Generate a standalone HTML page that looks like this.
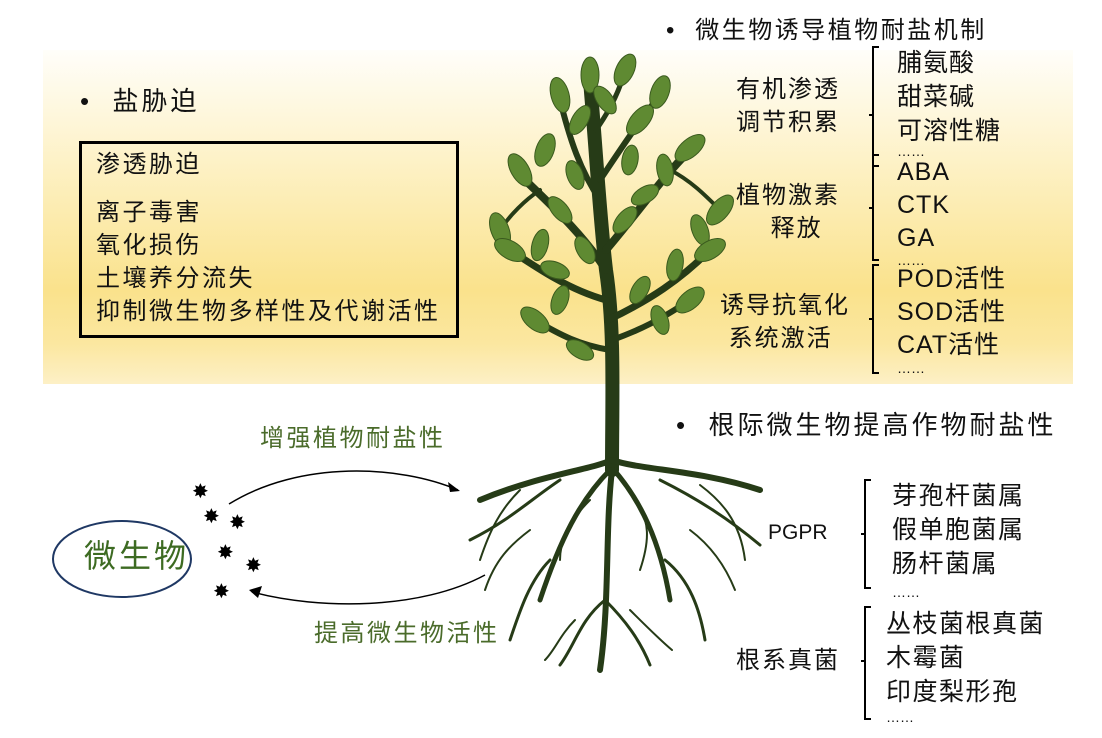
<!DOCTYPE html>
<html><head><meta charset="utf-8"><style>
body{margin:0;width:1102px;height:738px;background:#fff;position:relative;overflow:hidden;font-family:"Liberation Sans","Noto Sans CJK SC",sans-serif;color:#111}
.band{position:absolute;left:43px;top:50px;width:1030px;height:334px;background:linear-gradient(#fffefa 0%,#fdf1c4 35%,#fae28c 72%,#fbe7a0 88%,#fdf0c6 100%)}
.t{position:absolute;white-space:nowrap;line-height:1}
</style></head><body>
<div class="band"></div>
<svg width="1102" height="738" style="position:absolute;left:0;top:0">
<g stroke="#263b17" fill="none" stroke-linecap="round">
<path d="M612 470 C612 400 615 330 606 270 C600 220 596 150 590 80" stroke-width="14"/>
<path d="M606 270 C580 230 545 200 520 175" stroke-width="8"/>
<path d="M606 250 C640 210 660 180 690 150" stroke-width="8"/>
<path d="M606 300 C570 290 540 270 510 250" stroke-width="7"/>
<path d="M608 320 C650 300 680 280 710 250" stroke-width="7"/>
<path d="M600 200 C580 170 570 140 560 100" stroke-width="6"/>
<path d="M600 180 C620 150 640 120 660 95" stroke-width="6"/>
<path d="M596 130 C610 110 620 90 625 70" stroke-width="5"/>
<path d="M610 350 C580 345 560 335 535 320" stroke-width="6"/>
<path d="M612 340 C640 330 660 320 690 300" stroke-width="6"/>
<path d="M540 190 C525 200 510 215 500 230" stroke-width="4"/>
<path d="M670 170 C690 180 705 195 720 210" stroke-width="4"/>
</g>
<g fill="#5f8a32" stroke="#3a5a1e" stroke-width="1">
<ellipse cx="520" cy="170" rx="9" ry="18" transform="rotate(-30 520 170)"/>
<ellipse cx="545" cy="150" rx="9" ry="17" transform="rotate(20 545 150)"/>
<ellipse cx="560" cy="95" rx="9" ry="18" transform="rotate(-15 560 95)"/>
<ellipse cx="580" cy="120" rx="8" ry="16" transform="rotate(30 580 120)"/>
<ellipse cx="590" cy="75" rx="9" ry="18"/>
<ellipse cx="625" cy="70" rx="9" ry="17" transform="rotate(25 625 70)"/>
<ellipse cx="605" cy="100" rx="8" ry="16" transform="rotate(-35 605 100)"/>
<ellipse cx="640" cy="120" rx="9" ry="18" transform="rotate(40 640 120)"/>
<ellipse cx="660" cy="92" rx="9" ry="17" transform="rotate(20 660 92)"/>
<ellipse cx="690" cy="148" rx="9" ry="18" transform="rotate(50 690 148)"/>
<ellipse cx="665" cy="170" rx="8" ry="16" transform="rotate(-10 665 170)"/>
<ellipse cx="720" cy="210" rx="9" ry="18" transform="rotate(40 720 210)"/>
<ellipse cx="700" cy="230" rx="8" ry="16" transform="rotate(-20 700 230)"/>
<ellipse cx="710" cy="250" rx="9" ry="17" transform="rotate(60 710 250)"/>
<ellipse cx="675" cy="265" rx="8" ry="16" transform="rotate(10 675 265)"/>
<ellipse cx="690" cy="300" rx="9" ry="17" transform="rotate(50 690 300)"/>
<ellipse cx="660" cy="320" rx="8" ry="15" transform="rotate(-20 660 320)"/>
<ellipse cx="500" cy="230" rx="9" ry="18" transform="rotate(-20 500 230)"/>
<ellipse cx="510" cy="250" rx="9" ry="17" transform="rotate(-60 510 250)"/>
<ellipse cx="540" cy="245" rx="8" ry="16" transform="rotate(15 540 245)"/>
<ellipse cx="560" cy="210" rx="8" ry="16" transform="rotate(-40 560 210)"/>
<ellipse cx="535" cy="320" rx="9" ry="17" transform="rotate(-50 535 320)"/>
<ellipse cx="560" cy="300" rx="8" ry="15" transform="rotate(20 560 300)"/>
<ellipse cx="580" cy="350" rx="8" ry="15" transform="rotate(-60 580 350)"/>
<ellipse cx="625" cy="220" rx="8" ry="16" transform="rotate(40 625 220)"/>
<ellipse cx="585" cy="250" rx="8" ry="15" transform="rotate(-30 585 250)"/>
<ellipse cx="630" cy="160" rx="8" ry="15" transform="rotate(10 630 160)"/>
<ellipse cx="575" cy="175" rx="8" ry="15" transform="rotate(-20 575 175)"/>
<ellipse cx="645" cy="195" rx="8" ry="15" transform="rotate(60 645 195)"/>
<ellipse cx="555" cy="270" rx="8" ry="15" transform="rotate(-70 555 270)"/>
<ellipse cx="640" cy="290" rx="8" ry="15" transform="rotate(30 640 290)"/>
</g>
<g stroke="#263b17" fill="none" stroke-linecap="round">
<path d="M612 460 C590 470 540 475 480 500" stroke-width="6"/>
<path d="M612 460 C640 470 700 470 760 490" stroke-width="6"/>
<path d="M610 470 C580 500 560 540 540 600" stroke-width="5"/>
<path d="M614 470 C640 500 660 540 670 600" stroke-width="5"/>
<path d="M612 470 C605 530 610 600 600 670" stroke-width="6"/>
<path d="M560 480 C530 500 510 520 470 540" stroke-width="3"/>
<path d="M660 480 C700 500 730 520 760 545" stroke-width="3"/>
<path d="M550 560 C530 580 520 610 510 640" stroke-width="3"/>
<path d="M665 560 C690 580 700 610 705 640" stroke-width="3"/>
<path d="M605 600 C580 620 575 645 560 665" stroke-width="3"/>
<path d="M605 600 C625 620 640 640 650 665" stroke-width="3"/>
<path d="M590 500 C570 520 560 540 560 560" stroke-width="2"/>
<path d="M635 500 C650 520 650 540 640 570" stroke-width="2"/>
<path d="M520 490 C500 510 490 530 480 560" stroke-width="2"/>
<path d="M700 485 C720 500 740 520 745 560" stroke-width="2"/>
<path d="M530 530 C510 545 495 560 485 590" stroke-width="2"/>
<path d="M690 530 C710 545 725 565 735 590" stroke-width="2"/>
<path d="M575 620 C560 635 555 650 545 660" stroke-width="2"/>
<path d="M630 610 C645 625 660 640 672 650" stroke-width="2"/>
</g>
<g stroke="#000" stroke-width="1.5" fill="none">
<path d="M229 504 C300 460 400 465 458 490"/>
<path d="M485 575 C420 610 320 610 252 592"/>
</g>
<path d="M460 491 L448 482 L450 492 Z" fill="#000"/>
<path d="M249 590 L262 586 L258 598 Z" fill="#000"/>
<g fill="#000" font-size="20" font-family="DejaVu Sans">
<text x="192" y="498">✸</text><text x="203" y="523">✸</text><text x="229" y="529">✸</text>
<text x="217" y="559">✸</text><text x="245" y="572">✸</text><text x="213" y="598">✸</text>
</g>
<ellipse cx="122" cy="559" rx="69" ry="38" fill="none" stroke="#1f3864" stroke-width="2"/>
<g stroke="#000" stroke-width="2" fill="none">
<path d="M879 47 h-6 v68 h-4 h4 v51 h6"/>
<path d="M879 155 h-6 v53 h-4 h4 v52 h6"/>
<path d="M879 265 h-6 v54 h-4 h4 v54 h6"/>
<path d="M871 480 h-6 v54 h-4 h4 v54 h6"/>
<path d="M871 607 h-6 v54 h-4 h4 v58 h6"/>
</g>
</svg>
<div class="t" style="left:80px;top:88px;font-size:26px;letter-spacing:3px">•&nbsp;&nbsp;盐胁迫</div>
<div style="position:absolute;left:79px;top:141px;width:380px;height:197px;border:3px solid #000;box-sizing:border-box"></div>
<div class="t" style="left:96px;top:153px;font-size:24px;letter-spacing:2.5px">渗透胁迫</div>
<div class="t" style="left:96px;top:196px;font-size:24px;line-height:33px;letter-spacing:2.5px">离子毒害<br>氧化损伤<br>土壤养分流失<br>抑制微生物多样性及代谢活性</div>
<div class="t" style="left:666px;top:19px;font-size:24px;letter-spacing:2.5px">•&nbsp;&nbsp;微生物诱导植物耐盐机制</div>
<div class="t" style="left:736px;top:73px;font-size:24px;line-height:33px;letter-spacing:2px">有机渗透<br>调节积累</div>
<div class="t" style="left:736px;top:179px;font-size:24px;line-height:33px;letter-spacing:2px">植物激素<br>&nbsp;&nbsp;&nbsp;&nbsp;释放</div>
<div class="t" style="left:720px;top:289px;font-size:24px;line-height:33px;letter-spacing:2px">诱导抗氧化<br>&nbsp;系统激活</div>
<div class="t" style="left:897px;top:46px;font-size:25px;line-height:34px;letter-spacing:1px">脯氨酸<br>甜菜碱<br>可溶性糖</div>
<div class="t" style="left:897px;top:144px;font-size:14px">……</div>
<div class="t" style="left:897px;top:156px;font-size:25px;line-height:33px;letter-spacing:1px">ABA<br>CTK<br>GA</div>
<div class="t" style="left:897px;top:253px;font-size:14px">……</div>
<div class="t" style="left:897px;top:263px;font-size:25px;line-height:33px;letter-spacing:1px">POD活性<br>SOD活性<br>CAT活性</div>
<div class="t" style="left:897px;top:361px;font-size:14px">……</div>
<div class="t" style="left:676px;top:412px;font-size:26px;letter-spacing:3px">•&nbsp;&nbsp;根际微生物提高作物耐盐性</div>
<div class="t" style="left:768px;top:522px;font-size:21px">PGPR</div>
<div class="t" style="left:892px;top:479px;font-size:25px;line-height:34px;letter-spacing:1.5px">芽孢杆菌属<br>假单胞菌属<br>肠杆菌属</div>
<div class="t" style="left:892px;top:585px;font-size:14px">……</div>
<div class="t" style="left:736px;top:649px;font-size:24px;letter-spacing:2px">根系真菌</div>
<div class="t" style="left:886px;top:607px;font-size:25px;line-height:34px;letter-spacing:1.5px">丛枝菌根真菌<br>木霉菌<br>印度梨形孢</div>
<div class="t" style="left:886px;top:710px;font-size:14px">……</div>
<div class="t" style="left:260px;top:427px;font-size:24px;letter-spacing:2.5px;color:#4a6b2a">增强植物耐盐性</div>
<div class="t" style="left:314px;top:622px;font-size:24px;letter-spacing:2.5px;color:#4a6b2a">提高微生物活性</div>
<div class="t" style="left:84px;top:540px;font-size:32px;letter-spacing:3px;color:#3d6b22">微生物</div>
</body></html>
